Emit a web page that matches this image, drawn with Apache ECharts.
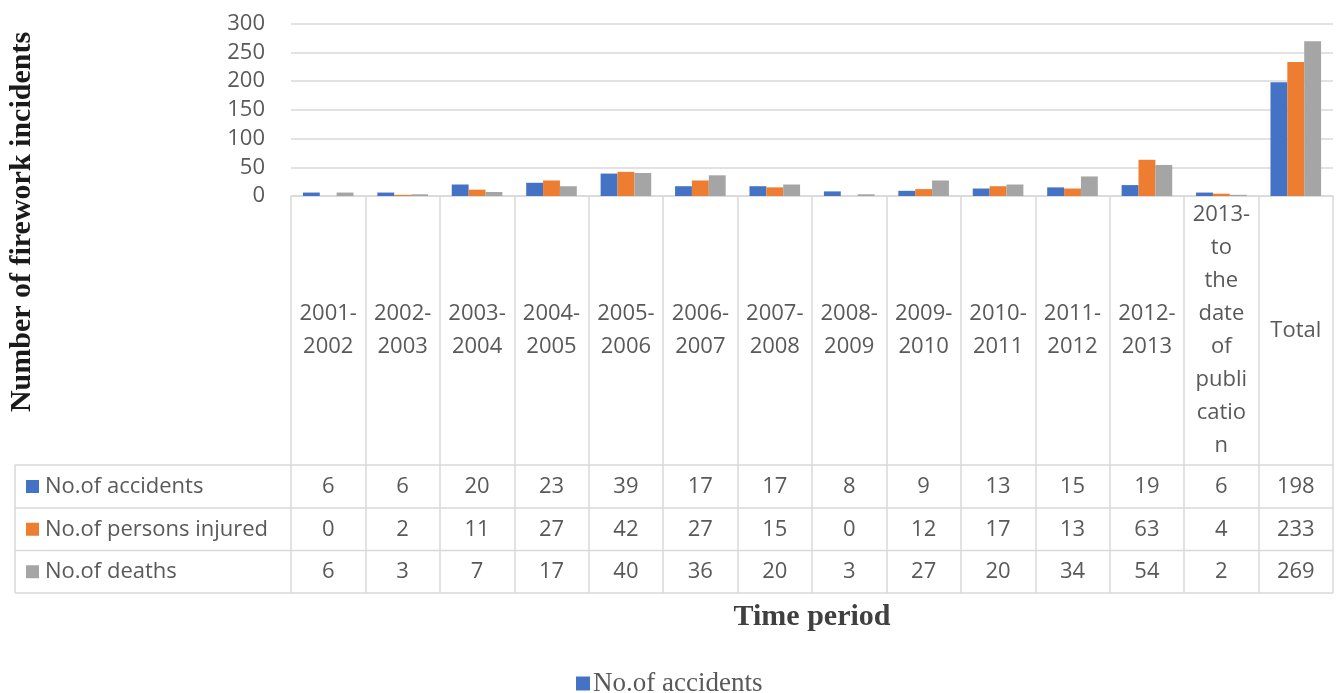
<!DOCTYPE html>
<html>
<head>
<meta charset="utf-8">
<script src="https://cdn.jsdelivr.net/npm/echarts@6/dist/echarts.min.js"></script>
<style>
  html, body { margin: 0; padding: 0; background: #ffffff; }
  #chart { width: 1339px; height: 693px; }
</style>
</head>
<body>
<div id="chart"></div>
<script>
// Firework incidents per period, with a data table under the columns
const periods = [
  '2001-\n2002', '2002-\n2003', '2003-\n2004', '2004-\n2005', '2005-\n2006',
  '2006-\n2007', '2007-\n2008', '2008-\n2009', '2009-\n2010', '2010-\n2011',
  '2011-\n2012', '2012-\n2013', '2013-\nto\nthe\ndate\nof\npubli\ncatio\nn', 'Total'
];
const accidents = [6, 6, 20, 23, 39, 17, 17, 8, 9, 13, 15, 19, 6, 198];
const injured   = [0, 2, 11, 27, 42, 27, 15, 0, 12, 17, 13, 63, 4, 233];
const deaths    = [6, 3, 7, 17, 40, 36, 20, 3, 27, 20, 34, 54, 2, 269];
const seriesNames = ['No.of accidents', 'No.of persons injured', 'No.of deaths'];
const yTicks = { min: 0, max: 300, interval: 50 };

const colors = ['#4472c4', '#ed7d31', '#a5a5a5'];
const values = [accidents, injured, deaths];

// layout (pixels)
const W = 1339, H = 693;
const PLOT_L = 291, PLOT_R = 1333, PLOT_T = 23.5, AXIS_Y = 196;
const TABLE_L = 15;
const ROW_LINES = [465, 508, 550.5, 593];
const GRID_COLOR = '#d9d9d9';
const TEXT_COLOR = '#595959';
const FONT = '"Open Sans", sans-serif';
const SERIF = '"Liberation Serif", "Times New Roman", serif';

const chart = echarts.init(document.getElementById('chart'), null, { renderer: 'canvas' });

// one hidden-line category axis per table row; its labels are the row values
const rowAxes = values.map((vals, i) => {
  const top = ROW_LINES[i], bottom = ROW_LINES[i + 1];
  const center = (top + bottom) / 2;
  return {
    type: 'category',
    gridIndex: 0,
    position: 'bottom',
    offset: center - AXIS_Y,
    data: vals.map(String),
    axisLine: { show: false },
    axisTick: { show: false },
    splitLine: { show: false },
    axisLabel: {
      interval: 0, margin: 0, verticalAlign: 'middle',
      color: TEXT_COLOR, fontFamily: FONT, fontSize: 22
    },
    name: '{sq|}{t|' + seriesNames[i] + '}',
    nameLocation: 'start',
    nameGap: PLOT_L - (TABLE_L + 11),
    nameTextStyle: {
      align: 'left', verticalAlign: 'middle',
      rich: {
        sq: { width: 13, height: 13, backgroundColor: colors[i] },
        t: { color: TEXT_COLOR, fontFamily: FONT, fontSize: 22, padding: [0, 0, 0, 6] }
      }
    }
  };
});

const lineStyle = { stroke: GRID_COLOR, lineWidth: 1.5 };
const tableLines = ROW_LINES.map(y => ({
  type: 'line', silent: true,
  shape: { x1: TABLE_L, y1: y, x2: PLOT_R, y2: y },
  style: lineStyle
}));
tableLines.push({
  type: 'line', silent: true,
  shape: { x1: TABLE_L, y1: ROW_LINES[0], x2: TABLE_L, y2: ROW_LINES[3] },
  style: lineStyle
});

chart.setOption({
  backgroundColor: '#ffffff',
  animation: false,
  color: colors,
  grid: { left: PLOT_L, right: W - PLOT_R, top: PLOT_T, bottom: H - AXIS_Y, containLabel: false },
  legend: {
    data: [seriesNames[0]],
    left: 571, top: 665,
    icon: 'rect', itemWidth: 14, itemHeight: 14, itemGap: 6,
    textStyle: { color: TEXT_COLOR, fontFamily: SERIF, fontSize: 27, padding: [0, 0, 0, -2] }
  },
  xAxis: [{
    type: 'category',
    gridIndex: 0,
    data: periods,
    axisLine: { show: true, lineStyle: { color: GRID_COLOR, width: 1.5 } },
    axisTick: { show: true, interval: 0, length: ROW_LINES[3] - AXIS_Y, lineStyle: { color: GRID_COLOR, width: 1.5 } },
    axisLabel: {
      interval: 0, margin: (AXIS_Y + ROW_LINES[0]) / 2 - AXIS_Y, verticalAlign: 'middle',
      color: TEXT_COLOR, fontFamily: FONT, fontSize: 22, lineHeight: 33, align: 'center'
    },
    name: 'Time period',
    nameLocation: 'middle',
    nameGap: 421,
    nameTextStyle: {
      color: '#404040', fontFamily: SERIF,
      fontSize: 30, fontWeight: 'bold', verticalAlign: 'middle'
    }
  }].concat(rowAxes),
  yAxis: {
    type: 'value',
    min: yTicks.min, max: yTicks.max, interval: yTicks.interval,
    axisLine: { show: false },
    axisTick: { show: false },
    splitLine: { lineStyle: { color: GRID_COLOR, width: 1.5 } },
    axisLabel: { color: TEXT_COLOR, fontFamily: FONT, fontSize: 22, margin: 26 }
  },
  series: values.map((vals, i) => ({
    name: seriesNames[i],
    type: 'bar',
    data: vals,
    barGap: '0%',
    barCategoryGap: '32%',
    itemStyle: { color: colors[i] }
  })),
  graphic: tableLines.concat([{
    type: 'text', silent: true,
    x: 22, y: 222, rotation: Math.PI / 2,
    style: {
      text: 'Number of firework incidents',
      fill: '#1a1a1a',
      font: 'bold 30px "Liberation Serif", "Times New Roman", serif',
      align: 'center', verticalAlign: 'middle'
    }
  }])
});
</script>
</body>
</html>
